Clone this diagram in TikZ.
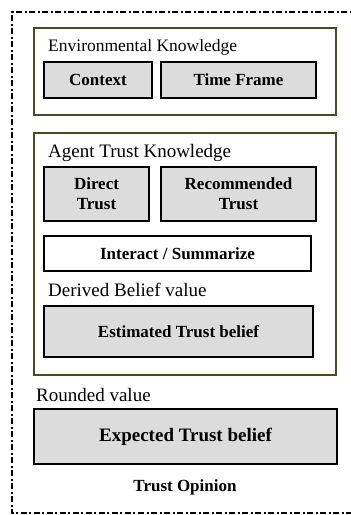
\documentclass[tikz,border=0pt]{standalone}
\usepackage{fontspec}
\setmainfont{Liberation Serif}
\usetikzlibrary{calc}

\definecolor{boxgray}{HTML}{DCDCDC}
\definecolor{olivedark}{HTML}{4B4B1E}

\begin{document}
\begin{tikzpicture}[x=1pt,y=-1pt,
    frame/.style={line width=2.4pt,dash pattern=on 6pt off 2.5pt on 2pt off 2.5pt},
    panel/.style={draw=olivedark,line width=2.5pt,fill=white,inner sep=0pt},
    block/.style={draw,fill=boxgray,line width=2.8pt,align=center,
                  inner sep=2pt,font=\fontsize{17}{20}\selectfont\bfseries},
    plainblock/.style={block,fill=white},
    heading/.style={anchor=west,inner sep=0pt,font=\fontsize{19}{21}\selectfont},
]
\useasboundingbox (0,0) rectangle (351,515);

% ---- Outer frame ---------------------------------------------------------
\draw[frame] (360,12) -- (12,12) -- (12,513) -- (360,513);

% ---- Environmental knowledge --------------------------------------------
\node[panel,minimum width=302pt,minimum height=87pt] (env) at (185,71.5) {};
\node[heading,font=\fontsize{17.5}{20}\selectfont] (envtxt) at (48,47) {Environmental Knowledge};
\node[block,minimum width=108pt,minimum height=36pt] (ctx) at (98,80) {Context};
\node[block,minimum width=155pt,minimum height=36pt] (tframe) at (238.5,80) {Time Frame};

% ---- Agent trust knowledge ----------------------------------------------
\node[panel,minimum width=302pt,minimum height=242pt] (agent) at (185,254) {};
\node[heading] (agenttxt) at (48,153) {Agent Trust Knowledge};
\node[block,minimum width=105pt,minimum height=54pt] (direct) at (96.5,194)
    {Direct\\ Trust};
\node[block,minimum width=155pt,minimum height=54pt] (recom) at (238.5,194)
    {Recommended\\ Trust};
\node[plainblock,minimum width=267pt,minimum height=35pt] (interact) at (177.5,253.5)
    {Interact / Summarize};
\node[heading] (derived) at (48,290) {Derived Belief value};
\node[block,minimum width=269pt,minimum height=51pt] (est) at (178.5,331.5)
    {Estimated Trust belief};

% ---- Rounded value -------------------------------------------------------
\node[heading] (rounded) at (36,395) {Rounded value};
\node[block,minimum width=303pt,minimum height=55pt,
      font=\fontsize{19}{21}\selectfont\bfseries] (expct) at (185.5,436.5)
    {Expected Trust belief};
\node[font=\fontsize{17}{19}\selectfont\bfseries] (opinion) at (185,487) {Trust Opinion};

\end{tikzpicture}
\end{document}
